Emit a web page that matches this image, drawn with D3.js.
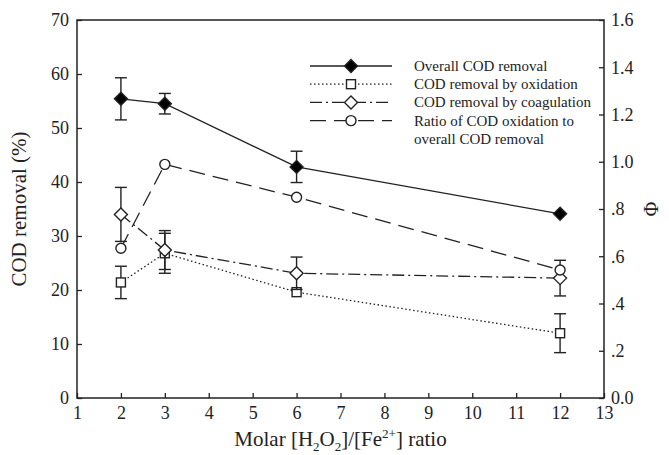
<!DOCTYPE html>
<html>
<head>
<meta charset="utf-8">
<script src="https://cdn.jsdelivr.net/npm/d3@7"></script>
<style>
  body { margin: 0; background: #fff; }
</style>
</head>
<body>
<svg width="669" height="455"></svg>
<script>
'use strict';

// molar H2O2/Fe2+ ratios
const ratios = [2, 3, 6, 12];

// COD removal (%) with error bars
const overall = [55.4, 54.5, 42.8, 34.1];
const overallErr = [3.9, 1.9, 2.9, 0];
const oxidation = [21.4, 26.8, 19.6, 12.0];
const oxidationErr = [3.0, 3.7, 0, 3.6];
const coagulation = [34.0, 27.4, 23.1, 22.2];
const coagulationErr = [5.0, 3.6, 3.0, 3.3];

// ratio of COD oxidation to overall COD removal (right axis)
const phi = [0.634, 0.989, 0.850, 0.542];

const xTicks = d3.range(1, 14);
const leftTicks = d3.range(0, 71, 10);
const rightTicks = [0, 0.2, 0.4, 0.6, 0.8, 1.0, 1.2, 1.4, 1.6];
const rightLabels = ['0.0', '.2', '.4', '.6', '.8', '1.0', '1.2', '1.4', '1.6'];

const legendItems = [
  {label: ['Overall COD removal'], dash: null, mark: 'diamondFill'},
  {label: ['COD removal by oxidation'], dash: '1.5,2.5', mark: 'square'},
  {label: ['COD removal by coagulation'], dash: '12,4,2,4', mark: 'diamond'},
  {label: ['Ratio of COD oxidation to', 'overall COD removal'], dash: '16,8', mark: 'circle'}
];

const svg = d3.select('svg');
const plotLeft = 77, plotRight = 604, plotTop = 20, plotBottom = 398;
const ink = '#222';
const serif = '"Liberation Serif", "Times New Roman", serif';

const x = d3.scaleLinear().domain([1, 13]).range([plotLeft, plotRight]);
const y = d3.scaleLinear().domain([0, 70]).range([plotBottom, plotTop]);
const y2 = d3.scaleLinear().domain([0, 1.6]).range([plotBottom, plotTop]);

// frame
svg.append('rect')
  .attr('x', plotLeft).attr('y', plotTop)
  .attr('width', plotRight - plotLeft).attr('height', plotBottom - plotTop)
  .attr('fill', 'none').attr('stroke', ink).attr('stroke-width', 1.5);

// axes
const xAxis = svg.append('g')
  .attr('transform', `translate(0,${plotBottom})`)
  .call(d3.axisBottom(x).tickValues(xTicks).tickSizeInner(-5).tickSizeOuter(0).tickPadding(8));
const yAxis = svg.append('g')
  .attr('transform', `translate(${plotLeft},0)`)
  .call(d3.axisLeft(y).tickValues(leftTicks).tickSizeInner(-5).tickSizeOuter(0).tickPadding(8));
const y2Axis = svg.append('g')
  .attr('transform', `translate(${plotRight},0)`)
  .call(d3.axisRight(y2).tickValues(rightTicks).tickSizeInner(-5).tickSizeOuter(0).tickPadding(7)
    .tickFormat((d, i) => rightLabels[i]));

[xAxis, yAxis, y2Axis].forEach(g => {
  g.attr('font-family', null).attr('font-size', null);
  g.select('.domain').remove();
  g.selectAll('line').attr('stroke', ink).attr('stroke-width', 1.3);
  g.selectAll('text').style('font-size', '18px').style('font-family', serif).attr('fill', ink);
});

// axis titles
svg.append('text')
  .attr('transform', `translate(26,${(plotTop + plotBottom) / 2}) rotate(-90)`)
  .attr('text-anchor', 'middle')
  .style('font-family', serif).style('font-size', '21px').attr('fill', ink)
  .text('COD removal (%)');

const xt = svg.append('text')
  .attr('x', (plotLeft + plotRight) / 2).attr('y', 446)
  .attr('text-anchor', 'middle')
  .style('font-family', serif).style('font-size', '21px').attr('fill', ink);
xt.append('tspan').text('Molar [H');
xt.append('tspan').style('font-size', '13px').attr('dy', 5).text('2');
xt.append('tspan').attr('dy', -5).text('O');
xt.append('tspan').style('font-size', '13px').attr('dy', 5).text('2');
xt.append('tspan').attr('dy', -5).text(']/[Fe');
xt.append('tspan').style('font-size', '13px').attr('dy', -8).text('2+');
xt.append('tspan').attr('dy', 8).text('] ratio');

svg.append('text')
  .attr('transform', `translate(644,${(plotTop + plotBottom) / 2}) rotate(90)`)
  .attr('text-anchor', 'middle')
  .style('font-family', serif).style('font-size', '20px').attr('fill', ink)
  .text('Φ');

// markers
function drawMark(g, type, cx, cy) {
  if (type === 'diamondFill' || type === 'diamond') {
    g.append('path')
      .attr('d', `M${cx},${cy - 6.5}L${cx + 6.5},${cy}L${cx},${cy + 6.5}L${cx - 6.5},${cy}Z`)
      .attr('fill', type === 'diamondFill' ? '#000' : '#fff')
      .attr('stroke', ink).attr('stroke-width', 1.4);
  } else if (type === 'square') {
    g.append('rect')
      .attr('x', cx - 4.5).attr('y', cy - 4.5).attr('width', 9).attr('height', 9)
      .attr('fill', '#fff').attr('stroke', ink).attr('stroke-width', 1.4);
  } else {
    g.append('circle')
      .attr('cx', cx).attr('cy', cy).attr('r', 5)
      .attr('fill', '#fff').attr('stroke', ink).attr('stroke-width', 1.4);
  }
}

function errorBars(g, values, errs, scale) {
  values.forEach((v, i) => {
    if (!errs[i]) return;
    const cx = x(ratios[i]);
    const y0 = scale(v - errs[i]), y1 = scale(v + errs[i]);
    g.append('line').attr('x1', cx).attr('x2', cx).attr('y1', y0).attr('y2', y1);
    g.append('line').attr('x1', cx - 6).attr('x2', cx + 6).attr('y1', y0).attr('y2', y0);
    g.append('line').attr('x1', cx - 6).attr('x2', cx + 6).attr('y1', y1).attr('y2', y1);
  });
  g.selectAll('line').attr('stroke', ink).attr('stroke-width', 1.4);
}

const series = [
  {values: overall, errs: overallErr, scale: y, dash: null, mark: 'diamondFill'},
  {values: oxidation, errs: oxidationErr, scale: y, dash: '1.5,2.5', mark: 'square'},
  {values: coagulation, errs: coagulationErr, scale: y, dash: '12,4,2,4', mark: 'diamond'},
  {values: phi, errs: [0, 0, 0, 0], scale: y2, dash: '16,8', mark: 'circle'}
];

series.forEach(s => {
  const line = d3.line().x((d, i) => x(ratios[i])).y(d => s.scale(d));
  svg.append('path')
    .attr('d', line(s.values))
    .attr('fill', 'none').attr('stroke', ink).attr('stroke-width', 1.3)
    .attr('stroke-dasharray', s.dash);
});

series.forEach(s => {
  const g = svg.append('g');
  errorBars(g, s.values, s.errs, s.scale);
  s.values.forEach((v, i) => drawMark(g, s.mark, x(ratios[i]), s.scale(v)));
});

// legend
const legend = svg.append('g');
legendItems.forEach((d, i) => {
  const ly = 66 + i * 18.2;
  legend.append('line')
    .attr('x1', 310).attr('x2', 392).attr('y1', ly).attr('y2', ly)
    .attr('stroke', ink).attr('stroke-width', 1.3)
    .attr('stroke-dasharray', d.dash);
  drawMark(legend, d.mark, 351, ly);
  d.label.forEach((t, j) => {
    legend.append('text')
      .attr('x', 414).attr('y', ly + 5 + j * 18.2)
      .style('font-family', serif).style('font-size', '15px').attr('fill', ink)
      .text(t);
  });
});
</script>
</body>
</html>
